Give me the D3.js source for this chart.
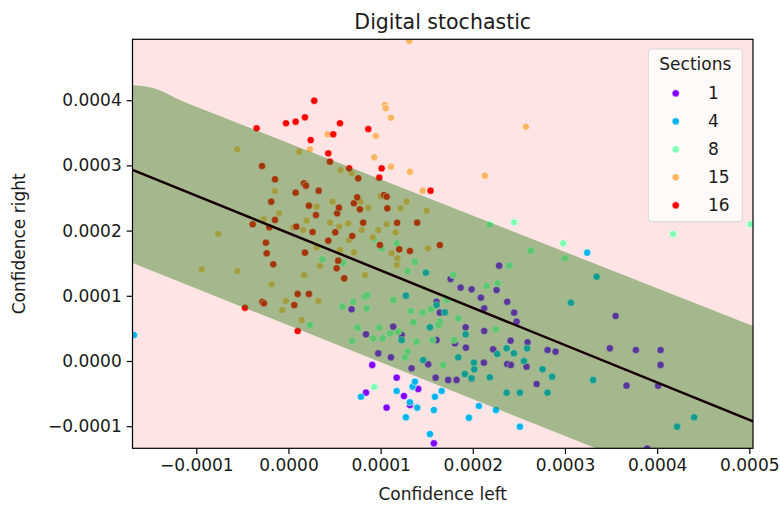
<!DOCTYPE html>
<html>
<head>
<meta charset="utf-8">
<script src="https://cdn.jsdelivr.net/npm/d3@7"></script>
<style>
  body { margin: 0; background: #fff; }
  text { font-family: "DejaVu Sans", sans-serif; fill: #1a1a1a; }
</style>
</head>
<body>
<svg id="chart" width="780" height="508"></svg>
<script>
//All values are in units of 1e-4.
const UNIT = 1e-4;

const sections = ['1', '4', '8', '15', '16'];
const sectionColors = ['#8000ff', '#00b4ec', '#80ffb4', '#ffb462', '#ff0000'];

const section1 = [
  [0.909,-0.061],[1.174,-0.256],[1.253,-0.537],[1.408,-0.429],[1.318,-0.675],[1.065,-0.716],
  [0.841,-0.486],[1.578,-1.262],[1.868,1.124],[1.987,1.100],[2.088,0.971],[2.258,1.089],
  [2.373,0.909],[2.449,0.741],[2.475,0.603],[1.607,0.909],[1.643,0.741],[2.124,0.808],
  [1.922,0.517],[2.124,0.460],[1.925,0.204],[1.806,0.271],[1.607,0.322],[1.228,0.399],
  [2.410,0.311],[2.594,0.287],[2.811,0.169],[2.898,0.143],[2.221,0.179],[2.120,-0.026],
  [2.373,-0.046],[2.413,-0.061],[1.336,-0.112],[1.516,-0.051],[1.597,-0.256],[1.733,-0.291],
  [1.824,-0.291],[1.987,-0.271],[2.583,-0.087],[2.692,-0.353],[2.286,1.462],[1.759,1.258],
  [3.487,0.195],[3.769,0.169],[4.037,0.169],[4.037,-0.061],[3.549,0.690],[3.668,-0.379],
  [4.011,-0.379],[3.892,-1.342],[0.685,0.793],[0.841,0.409],[0.974,0.118],[1.112,0.057],
  [1.137,0.526]
];

const section4 = [
  [-1.676,0.399],[0.786,-0.548],[1.174,-0.460],[1.318,-0.633],[1.347,-0.394],[1.372,-0.317],
  [1.397,-0.716],[1.274,-0.863],[1.535,-1.120],[1.589,-0.548],[1.578,-0.752],[1.662,-0.460],
  [2.066,-0.690],[1.958,-0.870],[3.241,1.661],[2.251,-0.752],[2.511,-1.008],[1.274,1.002],
  [1.607,0.859],[1.697,0.747],[1.535,0.517],[1.228,0.322],[1.922,0.409],[1.842,0.057],
  [1.462,0.015],[2.012,-0.026],[2.015,-0.127],[1.914,-0.199],[1.987,-0.265],[2.185,-0.250],
  [2.265,0.107],[2.367,0.195],[2.446,0.118],[2.590,0.195],[2.554,0.000],[2.757,-0.127],
  [2.861,-0.241],[2.367,-0.486],[2.511,-0.486],[2.811,-0.486],[3.343,1.293],[3.064,0.894],
  [3.306,-0.291],[4.401,-0.863],[4.217,-1.008],[1.491,1.354]
];

const section8 = [
  [2.449,2.127],[4.174,1.948],[5.013,2.097],[2.981,1.805],[0.931,-0.399],[2.185,2.097],
  [2.630,1.692],[2.395,1.462],[1.372,1.523],[1.293,1.380],[1.787,1.319],[2.999,1.575],
  [2.150,1.150],[2.269,1.192],[1.842,0.655],[2.251,0.486],[1.798,0.322],[1.679,-0.061],
  [1.643,0.603],[1.564,0.322],[1.716,0.936],[1.329,0.767],[1.456,0.741],[1.546,0.793],
  [1.354,0.594],[1.625,0.552],[1.390,0.296],[1.293,0.143],[1.264,0.057],[1.191,0.449],
  [0.233,0.552],[0.588,0.833],[0.703,0.909],[0.830,0.986],[0.855,1.012],[0.848,0.808],
  [0.751,0.511],[0.985,0.511],[1.101,0.425],[1.022,0.348],[0.920,0.348],[0.692,0.307],
  [1.137,0.936],[0.367,1.560],[0.594,1.508],[0.927,1.867],[1.011,1.728],[1.174,1.805]
];

const section15 = [
  [1.310,4.910],[1.047,3.926],[1.057,3.876],[1.112,3.731],[0.425,3.477],[0.949,3.451],
  [0.931,3.124],[1.112,2.980],[1.318,2.903],[1.456,2.612],[2.576,3.593],[2.131,2.842],
  [0.233,3.247],[-0.555,3.247],[0.117,3.210],[0.566,2.929],[0.685,2.879],[-0.146,2.607],
  [0.479,2.443],[0.866,2.351],[1.000,2.531],[1.282,2.443],[1.217,2.342],[1.499,2.305],
  [-0.103,2.265],[0.306,2.367],[-0.266,2.173],[0.197,2.152],[0.450,2.121],[0.551,2.060],
  [0.649,2.112],[0.794,2.009],[0.974,2.009],[1.065,2.097],[1.163,1.974],[0.913,1.897],
  [-0.761,1.948],[0.161,2.009],[0.052,2.051],[0.783,2.443],[0.306,1.744],[0.710,1.667],
  [0.656,1.856],[1.119,1.652],[-0.555,1.380],[0.342,1.457],[1.516,1.728],[1.184,1.575],
  [1.174,1.472],[-0.941,1.406],[-0.182,1.176],[-0.027,0.920],[-0.067,0.782],[0.143,0.629],
  [0.323,0.920],[0.171,1.319],[0.559,1.702],[0.830,1.319]
];

const section16 = [
  [0.280,3.992],[-0.027,3.646],[0.078,3.670],[0.179,3.738],[0.559,3.646],[-0.345,3.569],
  [0.241,3.389],[0.486,3.477],[0.866,3.558],[1.011,2.955],[0.985,2.811],[1.542,2.612],
  [-0.472,0.817],[0.100,0.460],[-0.287,2.991],[-0.146,2.787],[-0.187,2.443],[-0.146,2.163],
  [-0.388,2.097],[-0.208,2.051],[0.078,2.581],[0.168,2.725],[0.190,2.689],[0.328,2.612],
  [0.222,2.382],[0.298,2.239],[0.085,2.060],[0.262,1.978],[0.508,1.974],[0.529,2.265],
  [0.548,2.351],[0.432,1.845],[0.692,1.917],[0.811,2.121],[0.775,2.327],[0.710,2.419],
  [0.746,2.511],[1.036,2.546],[1.065,2.520],[1.072,2.342],[0.992,1.779],[-0.244,1.814],
  [-0.236,1.652],[-0.165,1.483],[0.179,1.661],[0.523,1.422],[0.540,1.538],[0.432,3.185],
  [0.450,3.057],[0.659,2.955],[0.757,2.802],[0.605,1.268],[-0.284,0.909],[-0.266,0.885],
  [0.100,1.028],[0.222,1.028],[0.063,0.859],[1.202,1.713],[1.318,1.687],[1.643,1.779],
  [1.179,2.120],[1.397,2.121]
];

const sectionPoints = [section1, section4, section8, section15, section16];

//Fitted line and the band around it.
const lineX = [-1.692, 5.04];
const lineY = [2.932, -0.924];
const bandX = [-1.692, -1.556, -1.448, -1.339, -1.231, -1.123, 5.04];
const bandUpper = [4.233, 4.213, 4.178, 4.118, 4.037, 3.969, 0.537];
const bandLower = [1.503, 1.426, 1.365, 1.303, 1.242, 1.181, -2.302];

const xTicks = [-1, 0, 1, 2, 3, 4, 5];
const yTicks = [-1, 0, 1, 2, 3, 4];
const xDomain = [-1.692, 5.04];
const yDomain = [-1.339, 4.934];

const margin = {left: 132.5, right: 753, top: 39.3, bottom: 448.3};

const svg = d3.select('#chart');

const x = d3.scaleLinear()
    .domain(xDomain.map(v => v*UNIT))
    .range([margin.left, margin.right]);
const y = d3.scaleLinear()
    .domain(yDomain.map(v => v*UNIT))
    .range([margin.bottom, margin.top]);
const fmt = d3.format('.4f');

svg.append('defs')
    .append('clipPath')
    .attr('id', 'plot-clip')
    .append('rect')
    .attr('x', margin.left)
    .attr('y', margin.top)
    .attr('width', margin.right - margin.left)
    .attr('height', margin.bottom - margin.top);

//Background.
svg.append('rect')
    .attr('x', margin.left)
    .attr('y', margin.top)
    .attr('width', margin.right - margin.left)
    .attr('height', margin.bottom - margin.top)
    .attr('fill', '#ffe4e6');

const plot = svg.append('g')
    .attr('clip-path', 'url(#plot-clip)');

//Points, one colour per section.
sectionPoints.forEach((pts, i) => {
    plot.append('g')
        .selectAll('circle')
        .data(pts)
        .join('circle')
        .attr('cx', d => x(d[0]*UNIT))
        .attr('cy', d => y(d[1]*UNIT))
        .attr('r', 3.6)
        .attr('fill', sectionColors[i])
        .attr('stroke', '#fff')
        .attr('stroke-width', 0.5);
});

//Translucent band over the points.
const band = d3.area()
    .x(i => x(bandX[i]*UNIT))
    .y0(i => y(bandLower[i]*UNIT))
    .y1(i => y(bandUpper[i]*UNIT));
plot.append('path')
    .attr('d', band(d3.range(bandX.length)))
    .attr('fill', 'rgb(40,125,20)')
    .attr('fill-opacity', 0.42);

//Fitted line.
plot.append('path')
    .attr('d', d3.line()
        .x(i => x(lineX[i]*UNIT))
        .y(i => y(lineY[i]*UNIT))(d3.range(lineX.length)))
    .attr('stroke', '#140000')
    .attr('stroke-width', 2.5)
    .attr('fill', 'none');

//Axes.
const xAxis = svg.append('g')
    .attr('transform', `translate(0,${margin.bottom})`)
    .call(d3.axisBottom(x)
        .tickValues(xTicks.map(v => v*UNIT))
        .tickFormat(fmt)
        .tickSize(5.8)
        .tickPadding(4.5)
        .tickSizeOuter(0));
const yAxis = svg.append('g')
    .attr('transform', `translate(${margin.left},0)`)
    .call(d3.axisLeft(y)
        .tickValues(yTicks.map(v => v*UNIT))
        .tickFormat(fmt)
        .tickSize(5.8)
        .tickPadding(5)
        .tickSizeOuter(0));
[xAxis, yAxis].forEach(g => {
    g.select('.domain').remove();
    g.selectAll('.tick line').attr('stroke', '#000').attr('stroke-width', 1.2);
    g.selectAll('.tick text')
        .attr('font-size', '17px')
        .attr('font-family', '"DejaVu Sans", sans-serif')
        .attr('fill', '#1a1a1a');
});

//Frame.
svg.append('rect')
    .attr('x', margin.left)
    .attr('y', margin.top)
    .attr('width', margin.right - margin.left)
    .attr('height', margin.bottom - margin.top)
    .attr('fill', 'none')
    .attr('stroke', '#000')
    .attr('stroke-width', 1.2);

//Titles.
svg.append('text')
    .attr('x', (margin.left + margin.right)/2)
    .attr('y', 29)
    .attr('text-anchor', 'middle')
    .attr('font-size', '20.5px')
    .text('Digital stochastic');
svg.append('text')
    .attr('x', (margin.left + margin.right)/2)
    .attr('y', 500)
    .attr('text-anchor', 'middle')
    .attr('font-size', '17px')
    .text('Confidence left');
svg.append('text')
    .attr('transform', `translate(25,${(margin.top + margin.bottom)/2}) rotate(-90)`)
    .attr('text-anchor', 'middle')
    .attr('font-size', '17px')
    .text('Confidence right');

//Legend.
const legend = svg.append('g');
legend.append('rect')
    .attr('x', 648.3)
    .attr('y', 49)
    .attr('width', 94)
    .attr('height', 172.7)
    .attr('rx', 3)
    .attr('fill', '#fff')
    .attr('fill-opacity', 0.8)
    .attr('stroke', '#d6d6d6')
    .attr('stroke-width', 1);
legend.append('text')
    .attr('x', 695.3)
    .attr('y', 70)
    .attr('text-anchor', 'middle')
    .attr('font-size', '17px')
    .text('Sections');
const rows = legend.selectAll('.row')
    .data(sections)
    .join('g')
    .attr('class', 'row')
    .attr('transform', (d, i) => `translate(0,${93.3 + i*28})`);
rows.append('circle')
    .attr('cx', 675.7)
    .attr('r', 3.6)
    .attr('fill', (d, i) => sectionColors[i])
    .attr('stroke', '#fff')
    .attr('stroke-width', 0.5);
rows.append('text')
    .attr('x', 708)
    .attr('y', 6)
    .attr('font-size', '17px')
    .text(d => d);
</script>
</body>
</html>
